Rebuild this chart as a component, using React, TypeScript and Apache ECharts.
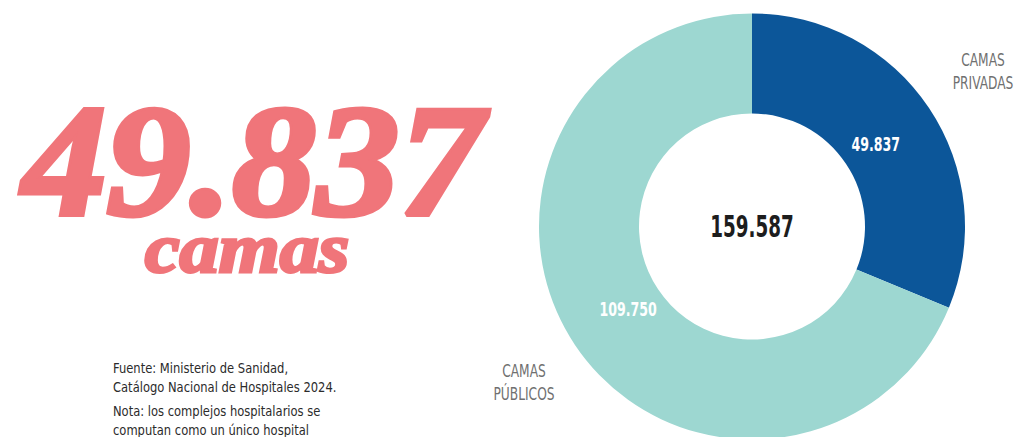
import React, { useEffect, useRef } from "react";
import * as echarts from "echarts";

const categories = ["CAMAS PRIVADAS", "CAMAS PÚBLICOS"];
const values = [49837, 109750];
const colors = ["#0C5699", "#9DD7D1"];
const headline = "49.837";
const headlineUnit = "camas";
const sourceLines = [
  "Fuente: Ministerio de Sanidad,",
  "Catálogo Nacional de Hospitales 2024.",
];
const noteLines = [
  "Nota: los complejos hospitalarios se",
  "computan como un único hospital",
];

const fmt = (n: number) => n.toString().replace(/\B(?=(\d{3})+(?!\d))/g, ".");

const NARROW = '"Liberation Sans Narrow", "DejaVu Sans Condensed", sans-serif';
const SERIF = '"Liberation Serif", serif';
const PINK = "#F0757A";

export default function App() {
  const ref = useRef<HTMLDivElement>(null);
  useEffect(() => {
    if (!ref.current) return;
    const chart = echarts.init(ref.current, undefined, { renderer: "svg" });
    const total = values.reduce((a, b) => a + b, 0);
    const CX = 752;
    const CY = 226.5;
    const START = 90;
    const data = categories.map((c, i) => ({
      name: c,
      value: values[i],
      itemStyle: { color: colors[i] },
    }));

    const graphics: any[] = [
      {
        type: "text",
        x: CX,
        y: CY,
        z: 100,
        scaleX: 0.68,
        style: {
          text: fmt(total),
          align: "center",
          verticalAlign: "middle",
          fill: "#1d1d1d",
          font: `bold 30px ${NARROW}`,
        },
      },
      {
        type: "text",
        x: 983,
        y: 72,
        scaleX: 0.8,
        style: {
          text: categories[0].replace(" ", "\n"),
          align: "center",
          verticalAlign: "middle",
          fill: "#707070",
          font: `17px ${NARROW}`,
          lineHeight: 23,
        },
      },
      {
        type: "text",
        x: 524,
        y: 383,
        scaleX: 0.8,
        style: {
          text: categories[1].replace(" ", "\n"),
          align: "center",
          verticalAlign: "middle",
          fill: "#707070",
          font: `17px ${NARROW}`,
          lineHeight: 23,
        },
      },
      {
        type: "text",
        x: 253,
        y: 240,
        scaleX: 1.06,
        style: {
          text: headline,
          align: "center",
          verticalAlign: "bottom",
          fill: PINK,
          stroke: PINK,
          lineWidth: 5,
          font: `italic bold 158px ${SERIF}`,
        },
      },
      {
        type: "text",
        x: 247,
        y: 283,
        scaleX: 1.12,
        style: {
          text: headlineUnit,
          align: "center",
          verticalAlign: "bottom",
          fill: PINK,
          stroke: PINK,
          lineWidth: 3,
          font: `italic bold 70px ${SERIF}`,
        },
      },
      {
        type: "text",
        x: 113,
        y: 378,
        scaleX: 0.95,
        style: {
          text: sourceLines.join("\n"),
          align: "left",
          verticalAlign: "middle",
          fill: "#2b2b2b",
          font: `13.5px ${NARROW}`,
          lineHeight: 19,
        },
      },
      {
        type: "text",
        x: 113,
        y: 421,
        scaleX: 0.95,
        style: {
          text: noteLines.join("\n"),
          align: "left",
          verticalAlign: "middle",
          fill: "#2b2b2b",
          font: `13.5px ${NARROW}`,
          lineHeight: 19,
        },
      },
    ];

    // value labels placed at the middle angle of each slice
    const labelR = 149;
    let cum = 0;
    values.forEach((v) => {
      const midDeg = START - ((cum + v / 2) / total) * 360;
      cum += v;
      const rad = (midDeg * Math.PI) / 180;
      graphics.push({
        type: "text",
        x: CX + Math.cos(rad) * labelR,
        y: CY - Math.sin(rad) * labelR,
        z: 100,
        scaleX: 0.7,
        style: {
          text: fmt(v),
          align: "center",
          verticalAlign: "middle",
          fill: "#ffffff",
          font: `bold 20px ${NARROW}`,
        },
      });
    });

    chart.setOption({
      animation: false,
      backgroundColor: "#ffffff",
      series: [
        {
          type: "pie",
          center: [CX, CY],
          radius: [113, 213],
          startAngle: START,
          clockwise: true,
          silent: true,
          z: 2,
          label: { show: false },
          labelLine: { show: false },
          data,
        },
      ],
      graphic: graphics,
    });

    return () => chart.dispose();
  }, []);
  return (
    <div
      ref={ref}
      style={{ position: "absolute", left: 0, top: 0, width: 1016, height: 437 }}
    />
  );
}
